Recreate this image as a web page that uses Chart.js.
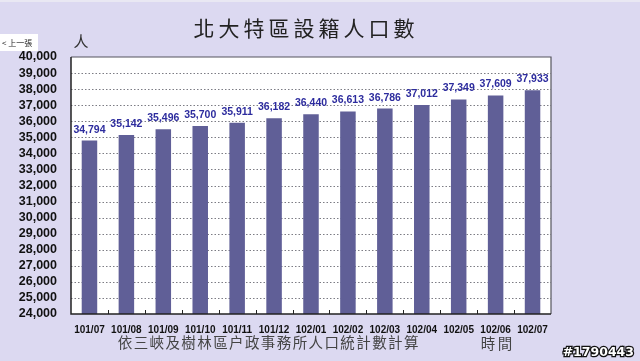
<!DOCTYPE html>
<html>
<head>
<meta charset="utf-8">
<script src="https://cdn.jsdelivr.net/npm/chart.js@4.4.0/dist/chart.umd.min.js"></script>
<style>
  html, body { margin: 0; padding: 0; background: #dcd9f1; }
  canvas { display: block; }
</style>
</head>
<body>
<canvas id="popChart" width="640" height="361"></canvas>
<script>
// 北大特區設籍人口數 (101/07 - 102/07)
const months = ['101/07', '101/08', '101/09', '101/10', '101/11', '101/12', '102/01',
                '102/02', '102/03', '102/04', '102/05', '102/06', '102/07'];
const population = [34794, 35142, 35496, 35700, 35911, 36182, 36440,
                    36613, 36786, 37012, 37349, 37609, 37933];
const yMin = 24000;
const yMax = 40000;
const yStep = 1000;

const titleText = '北大特區設籍人口數';
const unitText = '人';
const sourceText = '依三峽及樹林區户政事務所人口統計數計算';
const xTitleText = '時間';

const BG = '#dcd9f1';
const BAR = '#605f97';
const LABEL_BLUE = '#2d2c9e';

function spacedText(ctx, text, x, y, step) {
    for (let i = 0; i < text.length; i++) {
        ctx.fillText(text[i], x + i * step, y);
    }
}

const decor = {
    id: 'decor',
    beforeDraw(chart) {
        const { ctx, chartArea: a } = chart;
        ctx.save();
        ctx.fillStyle = BG;
        ctx.fillRect(0, 0, chart.width, chart.height);
        ctx.fillStyle = '#e9e8f3';
        ctx.fillRect(0, 0, chart.width, 2);
        ctx.fillStyle = '#ffffff';
        ctx.fillRect(a.left, a.top, a.right - a.left, a.bottom - a.top);
        ctx.restore();
    },
    beforeDatasetsDraw(chart) {
        // dotted grid lines, one per y tick
        const { ctx, chartArea: a, scales } = chart;
        ctx.save();
        ctx.strokeStyle = '#7c7c84';
        ctx.lineWidth = 1;
        ctx.setLineDash([1.5, 2]);
        ctx.beginPath();
        scales.y.ticks.forEach(t => {
            if (t.value <= yMin || t.value >= yMax) return;
            const y = Math.round(scales.y.getPixelForValue(t.value)) + 0.5;
            ctx.moveTo(a.left, y);
            ctx.lineTo(a.right, y);
        });
        ctx.stroke();
        ctx.restore();
    },
    afterDatasetsDraw(chart) {
        const { ctx, chartArea: a, scales } = chart;
        ctx.save();
        // plot frame
        ctx.strokeStyle = '#55555e';
        ctx.lineWidth = 1.2;
        ctx.beginPath();
        ctx.moveTo(a.left, a.top);
        ctx.lineTo(a.right, a.top);
        ctx.lineTo(a.right, a.bottom);
        ctx.stroke();
        // axes
        ctx.strokeStyle = '#222';
        ctx.lineWidth = 1.5;
        ctx.beginPath();
        ctx.moveTo(a.left, a.top);
        ctx.lineTo(a.left, a.bottom);
        ctx.lineTo(a.right, a.bottom);
        ctx.stroke();
        // category tick marks on x axis
        const step = (a.right - a.left) / months.length;
        ctx.lineWidth = 1;
        ctx.beginPath();
        for (let i = 1; i < months.length; i++) {
            const x = Math.round(a.left + i * step) + 0.5;
            ctx.moveTo(x, a.bottom);
            ctx.lineTo(x, a.bottom - 4);
        }
        ctx.stroke();
        // value labels
        ctx.fillStyle = LABEL_BLUE;
        ctx.font = 'bold 10.5px "Liberation Sans", Arial, sans-serif';
        ctx.textAlign = 'center';
        ctx.textBaseline = 'middle';
        const meta = chart.getDatasetMeta(0);
        meta.data.forEach((bar, i) => {
            const v = population[i];
            ctx.fillText(v.toLocaleString('en-US'), bar.x, scales.y.getPixelForValue(v) - 11);
        });
        ctx.restore();
    },
    afterDraw(chart) {
        const { ctx } = chart;
        ctx.save();
        ctx.textBaseline = 'middle';
        ctx.textAlign = 'center';
        // title
        ctx.fillStyle = '#222';
        ctx.font = '21px "Noto Sans CJK TC", sans-serif';
        spacedText(ctx, titleText, 204, 28, 25);
        // unit
        ctx.font = '15px "Noto Sans CJK TC", sans-serif';
        ctx.fillStyle = '#333';
        ctx.fillText(unitText, 81, 41);
        // source note and x title
        ctx.font = '14.5px "Noto Sans CJK TC", sans-serif';
        ctx.fillStyle = '#444';
        spacedText(ctx, sourceText, 125, 342, 15.9);
        spacedText(ctx, xTitleText, 488, 343, 17);
        // "previous" button
        ctx.fillStyle = '#ffffff';
        ctx.fillRect(0, 34, 38, 17);
        ctx.fillStyle = '#222';
        ctx.font = '8px "Noto Sans CJK TC", sans-serif';
        ctx.textAlign = 'left';
        ctx.fillText('< 上一張', 2, 43);
        // watermark
        ctx.font = 'bold 12.5px "DejaVu Sans", sans-serif';
        ctx.textAlign = 'right';
        ctx.lineWidth = 2.5;
        ctx.strokeStyle = '#111';
        ctx.strokeText('#1790443', 634, 353);
        ctx.fillStyle = '#ffffff';
        ctx.fillText('#1790443', 634, 353);
        ctx.restore();
    }
};

new Chart(document.getElementById('popChart'), {
    type: 'bar',
    data: {
        labels: months,
        datasets: [{
            data: population,
            backgroundColor: BAR,
            borderWidth: 0,
            barPercentage: 0.42,
            categoryPercentage: 1
        }]
    },
    options: {
        responsive: false,
        animation: false,
        devicePixelRatio: 1,
        layout: { padding: { top: 57, right: 89, bottom: 0, left: 0 } },
        plugins: { legend: { display: false }, tooltip: { enabled: false } },
        scales: {
            x: {
                grid: { display: false, drawTicks: false },
                border: { display: false },
                ticks: {
                    color: '#111',
                    padding: 10,
                    maxRotation: 0,
                    autoSkip: false,
                    font: { family: '"Liberation Sans", Arial, sans-serif', size: 10, weight: 'bold' }
                },
                afterFit(scale) { scale.height = 47; }
            },
            y: {
                min: yMin,
                max: yMax,
                grid: { display: false, drawTicks: false },
                border: { display: false },
                ticks: {
                    stepSize: yStep,
                    autoSkip: false,
                    color: '#111',
                    padding: 14,
                    font: { family: '"Liberation Sans", Arial, sans-serif', size: 12.5, weight: 'bold' },
                    callback: v => v.toLocaleString('en-US')
                },
                afterFit(scale) { scale.width = 71; }
            }
        }
    },
    plugins: [decor]
});
</script>
</body>
</html>
